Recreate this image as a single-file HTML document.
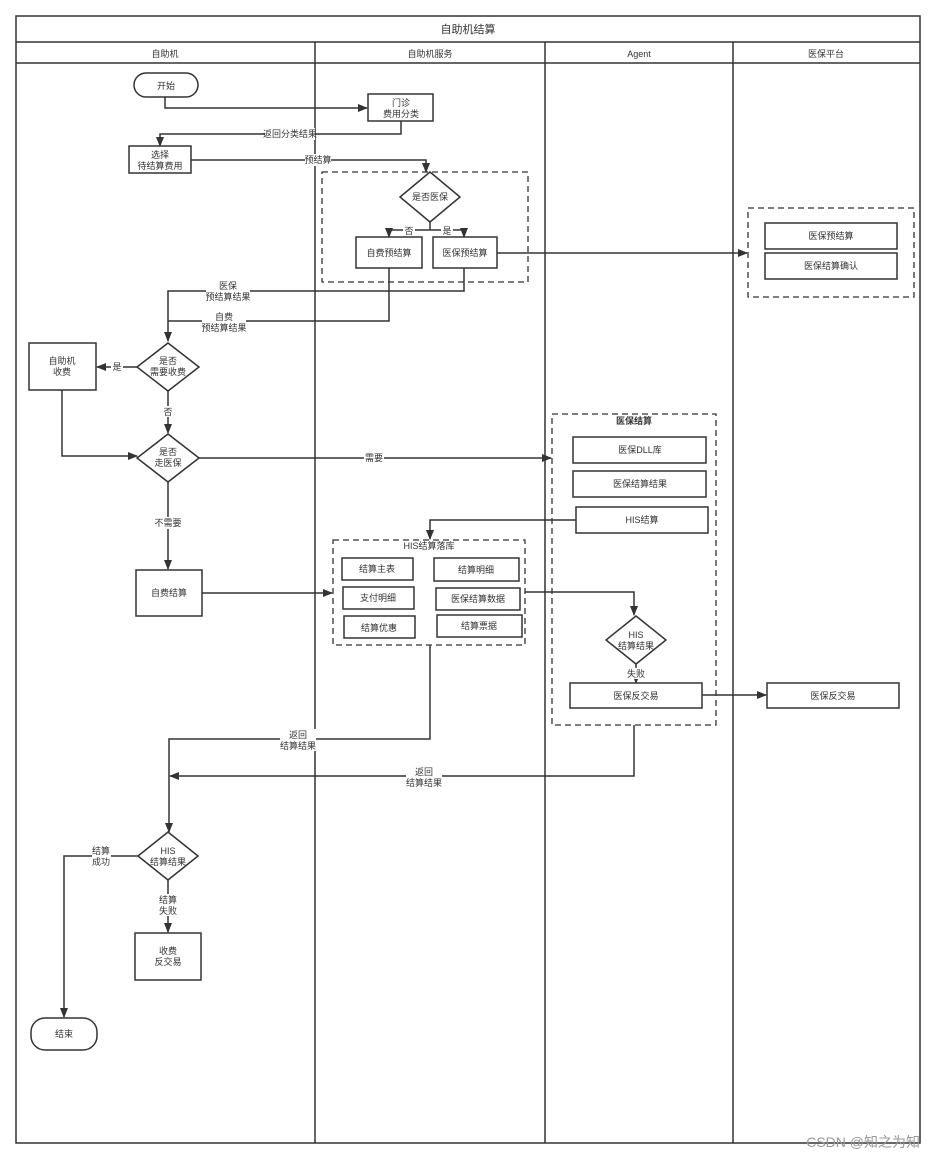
<!DOCTYPE html>
<html><head><meta charset="utf-8"><style>
html,body{margin:0;padding:0;background:#fff}
svg{display:block}
text{font-family:"Liberation Sans","Noto Sans CJK SC",sans-serif;font-size:9px;fill:#333;text-anchor:middle}
.b{fill:#fff;stroke:#333;stroke-width:1.5}
.l{fill:none;stroke:#333;stroke-width:1.5}
.d{fill:none;stroke:#333;stroke-width:1.3;stroke-dasharray:6,4}
.lb{fill:#fff}
</style></head><body>
<svg width="937" height="1160" viewBox="0 0 937 1160" xmlns="http://www.w3.org/2000/svg">
<defs><marker id="a" markerWidth="10" markerHeight="8" refX="9" refY="4" orient="auto" markerUnits="userSpaceOnUse"><path d="M0,0L10,4L0,8z" fill="#333"/></marker></defs>
<rect x="16" y="16" width="904" height="1127" class="l"/>
<line x1="16" y1="42" x2="920" y2="42" class="l"/>
<line x1="16" y1="63" x2="920" y2="63" class="l"/>
<line x1="315" y1="42" x2="315" y2="1143" class="l"/>
<line x1="545" y1="42" x2="545" y2="1143" class="l"/>
<line x1="733" y1="42" x2="733" y2="1143" class="l"/>
<text x="468" y="33" style="font-size:11px">自助机结算</text>
<text x="165" y="57">自助机</text><text x="430" y="57">自助机服务</text><text x="639" y="57">Agent</text><text x="826" y="57">医保平台</text>

<path d="M165,97V108H367" class="l" marker-end="url(#a)"/>
<path d="M401,121V134H160V146" class="l" marker-end="url(#a)"/>
<rect x="265" y="128" width="50" height="12" class="lb"/><text x="290" y="137">返回分类结果</text>
<path d="M191,160H426V172" class="l" marker-end="url(#a)"/>
<rect x="305" y="154" width="26" height="12" class="lb"/><text x="318" y="163">预结算</text>
<path d="M430,222V230H389V237M430,230H464V237" class="l"/>
<path d="M389,230V237" class="l" marker-end="url(#a)"/><path d="M464,230V237" class="l" marker-end="url(#a)"/>
<rect x="403" y="225" width="12" height="10" class="lb"/><text x="409" y="234">否</text>
<rect x="441" y="225" width="12" height="10" class="lb"/><text x="447" y="234">是</text>
<path d="M497,253H747" class="l" marker-end="url(#a)"/>
<path d="M464,268V291H168V341" class="l" marker-end="url(#a)"/>
<path d="M389,268V321H168" class="l"/>
<rect x="206" y="280" width="44" height="22" class="lb"/><text x="228" y="289">医保</text><text x="228" y="300">预结算结果</text>
<rect x="202" y="311" width="44" height="22" class="lb"/><text x="224" y="320">自费</text><text x="224" y="331">预结算结果</text>
<path d="M137,367H97" class="l" marker-end="url(#a)"/>
<rect x="111" y="361" width="12" height="11" class="lb"/><text x="117" y="370">是</text>
<path d="M168,391V433" class="l" marker-end="url(#a)"/>
<rect x="162" y="406" width="12" height="11" class="lb"/><text x="168" y="415">否</text>
<path d="M62,390V456H137" class="l" marker-end="url(#a)"/>
<path d="M199,458H551" class="l" marker-end="url(#a)"/>
<rect x="364" y="452" width="20" height="11" class="lb"/><text x="374" y="461">需要</text>
<path d="M168,482V569" class="l" marker-end="url(#a)"/>
<rect x="154" y="517" width="28" height="12" class="lb"/><text x="168" y="526">不需要</text>
<path d="M202,593H332" class="l" marker-end="url(#a)"/>
<path d="M576,520H430V539" class="l" marker-end="url(#a)"/>
<path d="M525,592H634V615" class="l" marker-end="url(#a)"/>
<path d="M636,664V683" class="l" marker-end="url(#a)"/>
<rect x="626" y="668" width="20" height="11" class="lb"/><text x="636" y="677">失败</text>
<path d="M702,695H766" class="l" marker-end="url(#a)"/>
<path d="M430,645V739H169V832" class="l" marker-end="url(#a)"/>
<rect x="280" y="729" width="36" height="22" class="lb"/><text x="298" y="738">返回</text><text x="298" y="749">结算结果</text>
<path d="M634,725V776H170" class="l" marker-end="url(#a)"/>
<rect x="406" y="766" width="36" height="22" class="lb"/><text x="424" y="775">返回</text><text x="424" y="786">结算结果</text>
<path d="M138,856H64V1017" class="l" marker-end="url(#a)"/>
<rect x="92" y="845" width="19" height="22" class="lb"/><text x="101" y="854">结算</text><text x="101" y="865">成功</text>
<path d="M168,880V932" class="l" marker-end="url(#a)"/>
<rect x="159" y="894" width="19" height="22" class="lb"/><text x="168" y="903">结算</text><text x="168" y="914">失败</text>

<rect x="134" y="73" width="64" height="24" rx="12" class="b"/><text x="166" y="89">开始</text>
<rect x="368" y="94" width="65" height="27" class="b"/><text x="401" y="106">门诊</text><text x="401" y="117">费用分类</text>
<rect x="129" y="146" width="62" height="27" class="b"/><text x="160" y="158">选择</text><text x="160" y="169">待结算费用</text>
<rect x="322" y="172" width="206" height="110" class="d"/>
<path d="M430,172L460,197L430,222L400,197Z" class="b"/><text x="430" y="200">是否医保</text>
<rect x="356" y="237" width="66" height="31" class="b"/><text x="389" y="256">自费预结算</text>
<rect x="433" y="237" width="64" height="31" class="b"/><text x="465" y="256">医保预结算</text>
<rect x="748" y="208" width="166" height="89" class="d"/>
<rect x="765" y="223" width="132" height="26" class="b"/><text x="831" y="239">医保预结算</text>
<rect x="765" y="253" width="132" height="26" class="b"/><text x="831" y="269">医保结算确认</text>
<path d="M168,343L199,367L168,391L137,367Z" class="b"/><text x="168" y="364">是否</text><text x="168" y="375">需要收费</text>
<rect x="29" y="343" width="67" height="47" class="b"/><text x="62" y="364">自助机</text><text x="62" y="375">收费</text>
<path d="M168,434L199,458L168,482L137,458Z" class="b"/><text x="168" y="455">是否</text><text x="168" y="466">走医保</text>
<rect x="552" y="414" width="164" height="311" class="d"/>
<text x="634" y="424" style="font-weight:bold">医保结算</text>
<rect x="573" y="437" width="133" height="26" class="b"/><text x="640" y="453">医保DLL库</text>
<rect x="573" y="471" width="133" height="26" class="b"/><text x="640" y="487">医保结算结果</text>
<rect x="576" y="507" width="132" height="26" class="b"/><text x="642" y="523">HIS结算</text>
<rect x="333" y="540" width="192" height="105" class="d"/>
<text x="429" y="549">HIS结算落库</text>
<rect x="342" y="558" width="71" height="22" class="b"/><text x="377" y="572">结算主表</text>
<rect x="434" y="558" width="85" height="23" class="b"/><text x="476" y="573">结算明细</text>
<rect x="343" y="587" width="71" height="22" class="b"/><text x="378" y="601">支付明细</text>
<rect x="436" y="588" width="84" height="22" class="b"/><text x="478" y="602">医保结算数据</text>
<rect x="344" y="616" width="71" height="22" class="b"/><text x="379" y="631">结算优惠</text>
<rect x="437" y="615" width="85" height="22" class="b"/><text x="479" y="629">结算票据</text>
<rect x="136" y="570" width="66" height="46" class="b"/><text x="169" y="596">自费结算</text>
<path d="M636,616L666,640L636,664L606,640Z" class="b"/><text x="636" y="638">HIS</text><text x="636" y="649">结算结果</text>
<rect x="570" y="683" width="132" height="25" class="b"/><text x="636" y="699">医保反交易</text>
<rect x="767" y="683" width="132" height="25" class="b"/><text x="833" y="699">医保反交易</text>
<path d="M168,832L198,856L168,880L138,856Z" class="b"/><text x="168" y="854">HIS</text><text x="168" y="865">结算结果</text>
<rect x="135" y="933" width="66" height="47" class="b"/><text x="168" y="954">收费</text><text x="168" y="965">反交易</text>
<rect x="31" y="1018" width="66" height="32" rx="14" class="b"/><text x="64" y="1037">结束</text>
<text x="920" y="1147" style="font-size:14px;fill:#999;text-anchor:end">CSDN @知之为知</text>
</svg>
</body></html>
